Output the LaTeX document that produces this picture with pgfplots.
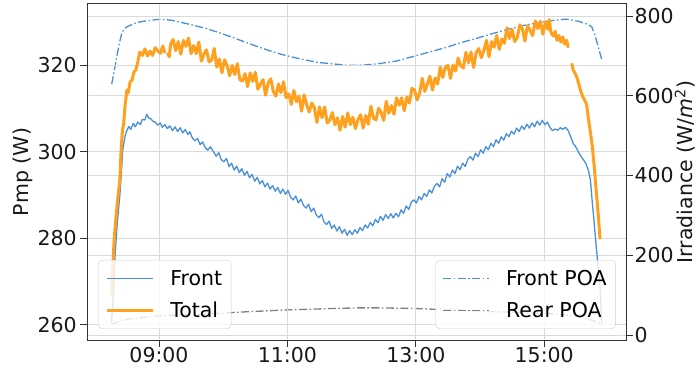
\documentclass[border=0pt]{standalone}
\usepackage{fontspec}
\setmainfont{DejaVu Sans}
\usepackage{pgfplots}
\pgfplotsset{compat=1.18}
\definecolor{cblue}{RGB}{74,144,217}
\definecolor{corange}{RGB}{255,160,30}
\definecolor{cgrid}{RGB}{218,218,218}
\definecolor{cgray}{RGB}{128,128,128}

\pgfplotsset{
 legend image code/.code={\draw[#1] (0pt,0pt) -- (46pt,0pt);},
 common/.style={
  scale only axis, width=538.7pt, height=336pt,
  xmin=7.883, xmax=16.274,
  xtick={9,11,13,15}, xticklabels={09:00,11:00,13:00,15:00},
  /pgf/number format/assume math mode=true,
  tick label style={font=\fontsize{20.5}{24}\selectfont, text=black!90},
  xticklabel style={yshift=3pt},
  label style={font=\fontsize{20.5}{24}\selectfont, text=black!90},
  tick align=outside, major tick length=7pt,
  grid style={cgrid, line width=0.8pt},
  axis line style={black!80, line width=1pt},
  tick style={black!80, line width=0.8pt},
  legend cell align=left,
  legend style={font=\fontsize{20.5}{24}\selectfont, fill=white, fill opacity=0.8,
    text opacity=1, draw=black!20, rounded corners=4pt, row sep=11pt,
    inner xsep=7pt, inner ysep=8pt,
    /tikz/every odd column/.append style={column sep=14pt}},
 },
 poa/.style={line width=1.3pt, dash pattern=on 8pt off 2.5pt on 1.5pt off 2.5pt},
}

\pgfplotstableread{
t w
8.263 629
8.30 660
8.34 695
8.38 730
8.42 757
8.46 768
8.50 773
8.60 780
8.70 785
8.81 788
9.03 792
9.20 789
9.45 780
9.70 770
9.90 760
10.10 749
10.30 737
10.50 725
10.70 714
10.90 704
11.10 696
11.30 689
11.50 683
11.70 680
11.95 676
12.20 677
12.45 681
12.70 687
12.95 698
13.20 709
13.45 720
13.70 733
13.95 744
14.20 756
14.45 767
14.70 777
14.95 784
15.10 788
15.25 791
15.35 792
15.45 789
15.55 786
15.61 783
15.66 780
15.70 777
15.74 773
15.78 757
15.82 735
15.86 712
15.896 690
}\frontpoa

\pgfplotstableread{
t w
8.263 27
8.35 33
8.45 38
8.55 41
8.70 43
8.85 46
9.00 48
9.25 50
9.50 51
9.85 53
10.20 57
10.60 60
10.99 63
11.40 65
11.80 67
12.10 68
12.44 68
12.80 67
13.10 66
13.48 63
13.90 61
14.30 58
14.70 56
15.04 54
15.30 51
15.50 47
15.65 42
15.78 35
15.87 29
15.896 27
}\rearpoa

\pgfplotstableread{
t w
8.26 260.5
8.29 267.0
8.315 276.0
8.35 283.5
8.39 290.0
8.415 295.5
8.435 300.4
8.47 303.6
8.50 305.0
8.53 305.9
8.56 305.2
8.60 306.6
8.63 305.8
8.67 306.9
8.71 306.3
8.74 307.5
8.78 307.4
8.81 308.7
8.84 307.8
8.87 307.7
8.91 307.0
8.94 306.9
8.98 306.2
9.02 306.7
9.05 305.7
9.09 306.3
9.13 305.4
9.17 306.0
9.21 304.9
9.25 305.8
9.29 304.7
9.33 305.6
9.37 304.4
9.41 305.2
9.45 304.0
9.48 304.7
9.52 303.2
9.56 302.6
9.60 303.1
9.64 301.7
9.68 302.3
9.72 301.0
9.76 300.4
9.80 301.2
9.85 300.0
9.89 299.0
9.93 299.8
9.97 298.2
10.01 297.7
10.05 298.5
10.09 296.6
10.13 297.4
10.17 295.8
10.21 296.7
10.25 295.2
10.29 296.1
10.33 294.6
10.37 295.5
10.41 294.0
10.45 294.8
10.49 293.2
10.53 294.1
10.57 292.6
10.61 293.4
10.65 291.9
10.69 292.8
10.73 291.4
10.77 292.2
10.81 290.9
10.85 291.8
10.89 290.4
10.93 291.4
10.97 290.2
11.01 291.1
11.05 289.5
11.09 288.9
11.13 289.8
11.17 288.2
11.21 289.1
11.25 287.6
11.29 287.0
11.33 287.9
11.37 286.2
11.41 287.0
11.45 285.4
11.49 284.8
11.53 285.6
11.57 283.8
11.61 283.2
11.65 284.0
11.69 282.3
11.73 283.1
11.77 281.7
11.81 282.7
11.85 281.2
11.89 282.1
11.93 280.7
11.97 281.8
12.01 280.9
12.05 282.0
12.09 281.2
12.13 282.5
12.17 281.8
12.21 283.1
12.25 282.4
12.29 283.7
12.33 282.9
12.37 284.4
12.41 283.6
12.45 285.1
12.49 284.2
12.53 285.5
12.57 284.6
12.61 285.7
12.65 284.7
12.69 285.8
12.73 285.0
12.77 286.6
12.81 285.8
12.85 287.5
12.89 286.7
12.93 288.4
12.97 288.9
13.01 288.2
13.05 289.7
13.09 288.9
13.13 290.4
13.17 289.7
13.21 291.2
13.25 290.5
13.29 292.1
13.33 292.7
13.37 291.9
13.41 293.8
13.45 293.0
13.49 295.0
13.53 294.2
13.57 295.8
13.61 295.0
13.65 296.7
13.69 295.9
13.73 297.4
13.77 296.6
13.81 298.3
13.85 298.9
13.89 298.1
13.93 299.7
13.97 298.9
14.01 300.5
14.05 299.7
14.09 301.2
14.13 300.5
14.17 302.0
14.21 301.2
14.25 302.8
14.29 302.0
14.33 303.5
14.37 302.7
14.41 304.2
14.45 303.5
14.49 304.8
14.53 304.1
14.57 305.5
14.61 304.7
14.65 306.0
14.69 305.2
14.73 306.4
14.77 305.5
14.81 306.7
14.85 305.8
14.89 307.1
14.93 306.2
14.97 307.3
15.01 306.3
15.05 306.9
15.09 305.6
15.13 304.9
15.17 305.3
15.21 305.0
15.25 305.6
15.29 305.2
15.33 305.7
15.37 305.0
15.41 303.6
15.45 302.0
15.49 301.2
15.53 300.1
15.57 299.0
15.61 298.2
15.65 297.3
15.69 295.6
15.72 293.5
15.745 289.0
15.765 285.8
15.79 281.5
15.82 276.5
15.85 272.0
15.87 268.8
15.896 260.3
}\front

\pgfplotstableread{
t w
8.263 266.9
8.28 273.0
8.30 279.5
8.33 285.0
8.36 289.5
8.39 293.5
8.41 300.5
8.43 305.0
8.45 306.5
8.47 310.5
8.50 314.3
8.52 313.6
8.55 316.2
8.58 316.6
8.61 318.5
8.64 319.0
8.67 320.8
8.70 323.1
8.74 322.3
8.78 323.8
8.82 322.2
8.86 323.3
8.90 322.3
8.94 324.1
8.98 323.4
9.02 322.8
9.06 324.5
9.09 322.9
9.11 nan
9.13 322.9
9.16 322.0
9.18 324.9
9.22 326.0
9.26 323.4
9.30 325.5
9.34 322.6
9.38 325.8
9.42 324.4
9.46 326.3
9.50 322.7
9.54 324.6
9.58 322.7
9.62 325.4
9.66 321.0
9.70 322.6
9.74 323.6
9.78 320.8
9.82 321.2
9.86 323.9
9.90 319.6
9.94 321.5
9.98 318.3
10.02 321.3
10.06 320.0
10.10 317.6
10.14 320.0
10.18 317.9
10.22 320.4
10.26 316.7
10.30 316.4
10.34 318.1
10.38 315.1
10.42 318.3
10.46 316.3
10.50 318.4
10.54 314.5
10.58 315.7
10.62 316.7
10.66 313.1
10.70 315.9
10.74 316.9
10.78 314.0
10.82 312.9
10.86 315.7
10.90 313.7
10.94 316.2
10.98 312.5
11.02 313.4
11.06 311.0
11.10 314.2
11.14 311.6
11.18 312.9
11.22 309.4
11.26 313.2
11.30 310.9
11.34 309.2
11.38 311.3
11.42 310.2
11.46 306.8
11.50 310.4
11.54 307.9
11.58 310.4
11.62 306.7
11.66 307.3
11.70 309.1
11.74 306.3
11.78 307.9
11.82 305.0
11.86 308.2
11.90 305.7
11.94 309.0
11.98 306.3
12.02 308.0
12.06 305.4
12.10 307.5
12.14 308.6
12.18 305.5
12.22 308.4
12.26 306.4
12.30 310.6
12.34 307.8
12.38 307.4
12.42 310.1
12.46 309.1
12.50 307.3
12.54 311.7
12.58 308.9
12.62 310.7
12.66 308.7
12.70 312.5
12.74 310.8
12.78 312.5
12.82 309.5
12.86 312.7
12.90 311.3
12.94 314.7
12.98 314.3
13.02 312.0
13.06 313.6
13.10 317.0
13.14 314.0
13.18 315.7
13.22 317.5
13.26 314.3
13.30 317.1
13.34 315.7
13.38 319.6
13.42 317.2
13.46 319.6
13.50 320.0
13.54 317.0
13.58 320.1
13.62 318.7
13.66 321.7
13.70 319.9
13.74 319.4
13.78 323.0
13.82 320.6
13.86 323.1
13.90 319.5
13.94 322.9
13.98 323.9
14.02 321.8
14.06 323.4
14.10 325.8
14.14 322.0
14.18 325.5
14.22 324.2
14.26 326.9
14.30 323.7
14.34 326.1
14.38 325.1
14.42 328.7
14.46 326.2
14.50 328.3
14.54 325.5
14.58 326.5
14.62 329.4
14.66 328.4
14.70 325.6
14.74 329.2
14.78 328.1
14.82 326.9
14.86 330.3
14.90 328.5
14.94 330.2
14.98 327.2
15.02 330.1
15.06 328.3
15.08 330.6
15.10 328.0
15.12 327.2
15.15 326.8
15.17 327.9
15.20 325.8
15.23 326.9
15.26 325.4
15.29 326.6
15.32 324.9
15.35 325.8
15.375 324.1
15.40 nan
15.43 320.5
15.45 319.0
15.48 318.2
15.51 317.2
15.54 315.6
15.57 314.0
15.60 312.8
15.63 312.0
15.66 311.0
15.69 307.5
15.72 304.5
15.75 301.2
15.78 296.5
15.81 291.0
15.84 285.8
15.87 279.8
}\total

\begin{document}
\begin{tikzpicture}
\path[use as bounding box] (-87.3pt,-28pt) rectangle (611.7pt,340pt);
% right axis (irradiance) lines, drawn first
\begin{axis}[common,
  ymin=-12.5, ymax=830, ytick={0,200,400,600,800},
  axis y line*=right, axis x line=none,
  ymajorgrids=true,
  yticklabel style={xshift=-2pt},
  ylabel={Irradiance (W/\textit{m}\textsuperscript{2})},
  ylabel style={at={(axis description cs:1.1096,0.5)}, anchor=center},
]
\addplot[cblue, poa] table[x=t,y=w] {\frontpoa};
\addplot[cgray, poa] table[x=t,y=w] {\rearpoa};
\end{axis}
% left axis (Pmp)
\begin{axis}[common,
  ymin=256.5, ymax=334.2, ytick={260,280,300,320},
  ytick pos=left, xtick pos=bottom,
  xmajorgrids=true, ymajorgrids=true,
  unbounded coords=jump,
  ylabel={Pmp (W)},
  ylabel style={at={(axis description cs:-0.1203,0.5)}, anchor=center},
  legend style={at={(0.02,0.033)}, anchor=south west},
]
\addplot[cblue, line width=1.3pt, line join=round] table[x=t,y=w] {\front};
\addlegendentry{Front}
\addplot[corange, line width=3pt, line join=round] table[x=t,y=w] {\total};
\addlegendentry{Total}
\end{axis}
% legend of the right axis, on top
\begin{axis}[common, hide axis,
  ymin=-12.5, ymax=830,
  legend style={at={(0.981,0.033)}, anchor=south east},
]
\addlegendimage{cblue, poa}
\addlegendentry{Front POA}
\addlegendimage{cgray, poa}
\addlegendentry{Rear POA}
\end{axis}
\end{tikzpicture}
\end{document}
